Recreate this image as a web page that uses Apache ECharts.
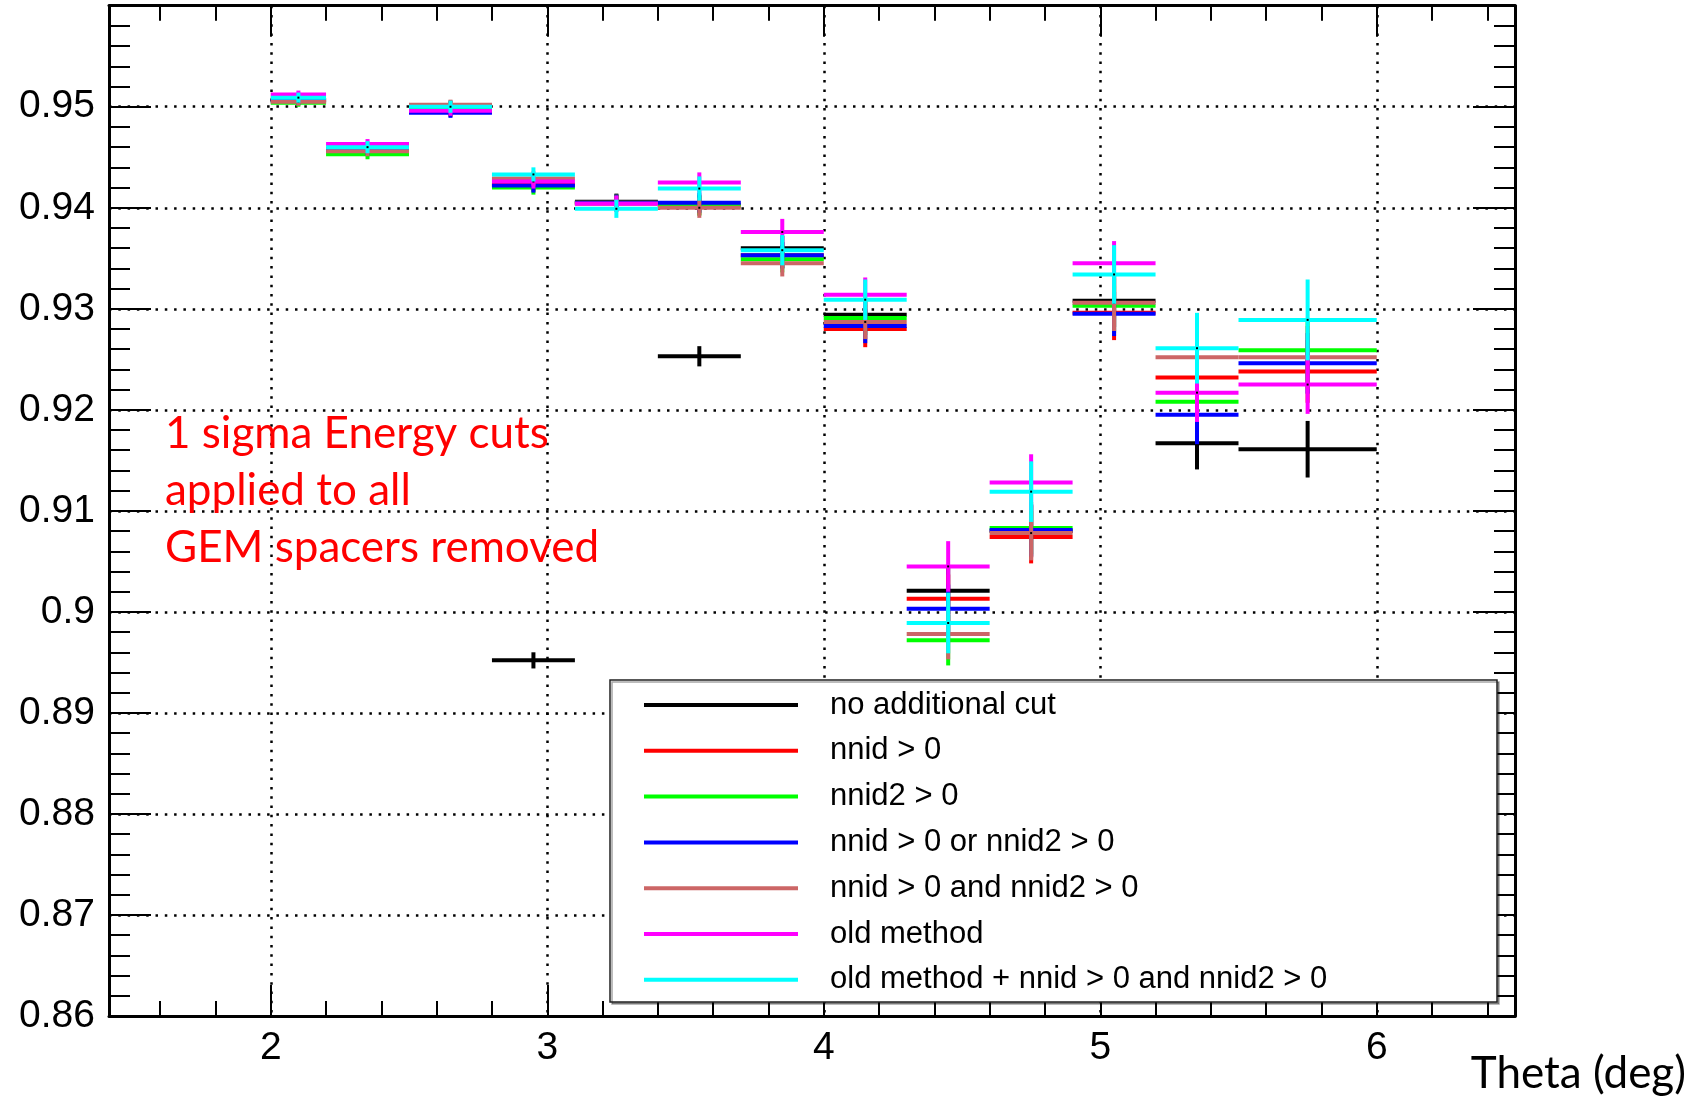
<!DOCTYPE html>
<html>
<head>
<meta charset="utf-8">
<script src="https://cdn.jsdelivr.net/npm/echarts@6/dist/echarts.min.js"></script>
<style>
  html, body { margin: 0; padding: 0; background: #ffffff; }
  #chart { width: 1698px; height: 1096px; }
</style>
</head>
<body>
<div id="chart"></div>
<script>
// Theta bins (deg): lower/upper edges of each bin
const binEdges = [2.0, 2.2, 2.5, 2.8, 3.1, 3.4, 3.7, 4.0, 4.3, 4.6, 4.9, 5.2, 5.5, 6.0];

const seriesNames = [
  'no additional cut',
  'nnid > 0',
  'nnid2 > 0',
  'nnid > 0 or nnid2 > 0',
  'nnid > 0 and nnid2 > 0',
  'old method',
  'old method + nnid > 0 and nnid2 > 0'
];
const seriesColors = ['#000000', '#ff0000', '#00ff00', '#0000ff', '#cc6666', '#ff00ff', '#00ffff'];

// Efficiency per theta bin, one array per selection
const effNoCut      = [0.9507, 0.9458, 0.9501, 0.8952, 0.9406, 0.9253, 0.9360, 0.9294, 0.9021, 0.9080, 0.9308, 0.9167, 0.9161];
const effNnid       = [0.9507, 0.9457, 0.9495, 0.9423, 0.9405, 0.9403, 0.9353, 0.9280, 0.9013, 0.9074, 0.9296, 0.9232, 0.9238];
const effNnid2      = [0.9504, 0.9453, 0.9498, 0.9420, 0.9405, 0.9402, 0.9349, 0.9291, 0.8972, 0.9083, 0.9303, 0.9208, 0.9259];
const effOr         = [0.9506, 0.9457, 0.9494, 0.9422, 0.9405, 0.9405, 0.9353, 0.9283, 0.9003, 0.9081, 0.9295, 0.9195, 0.9246];
const effAnd        = [0.9505, 0.9456, 0.9502, 0.9429, 0.9404, 0.9400, 0.9345, 0.9287, 0.8978, 0.9078, 0.9306, 0.9252, 0.9252];
const effOld        = [0.9512, 0.9463, 0.9496, 0.9426, 0.9404, 0.9425, 0.9376, 0.9314, 0.9045, 0.9128, 0.9345, 0.9217, 0.9225];
const effOldAnd     = [0.9509, 0.9460, 0.9500, 0.9433, 0.9399, 0.9419, 0.9358, 0.9309, 0.8989, 0.9119, 0.9334, 0.9261, 0.9289];

// Statistical uncertainty per theta bin
const errNoCut      = [0.0004, 0.0005, 0.0005, 0.0008, 0.0008, 0.0010, 0.0012, 0.0016, 0.0023, 0.0026, 0.0026, 0.0026, 0.0028];
const errNnid       = [0.0004, 0.0005, 0.0005, 0.0007, 0.0008, 0.0010, 0.0013, 0.0018, 0.0024, 0.0026, 0.0027, 0.0029, 0.0031];
const errNnid2      = [0.0004, 0.0005, 0.0005, 0.0007, 0.0008, 0.0010, 0.0013, 0.0017, 0.0025, 0.0026, 0.0027, 0.0029, 0.0030];
const errOr         = [0.0004, 0.0005, 0.0005, 0.0007, 0.0008, 0.0010, 0.0013, 0.0017, 0.0024, 0.0026, 0.0022, 0.0029, 0.0030];
const errAnd        = [0.0004, 0.0005, 0.0005, 0.0007, 0.0008, 0.0010, 0.0013, 0.0017, 0.0025, 0.0027, 0.0028, 0.0030, 0.0031];
const errOld        = [0.0004, 0.0005, 0.0005, 0.0007, 0.0008, 0.0010, 0.0013, 0.0017, 0.0025, 0.0028, 0.0022, 0.0029, 0.0029];
const errOldAnd     = [0.0005, 0.0006, 0.0006, 0.0007, 0.0009, 0.0012, 0.0015, 0.0020, 0.0030, 0.0030, 0.0029, 0.0035, 0.0040];

const effValues = [effNoCut, effNnid, effNnid2, effOr, effAnd, effOld, effOldAnd];
const errValues = [errNoCut, errNnid, errNnid2, errOr, errAnd, errOld, errOldAnd];

// Axis ticks
const xMajorTicks = [2, 3, 4, 5, 6];
const xMinorTicks = [1.6, 1.8, 2.2, 2.4, 2.6, 2.8, 3.2, 3.4, 3.6, 3.8, 4.2, 4.4, 4.6, 4.8, 5.2, 5.4, 5.6, 5.8, 6.2, 6.4];

const annotationLines = ['1 sigma Energy cuts', 'applied to all', 'GEM spacers removed'];
const xTitle = 'Theta (deg)';

const AXIS_FONT = '"Liberation Sans", Arial, Helvetica, sans-serif';
const NOTE_FONT = 'Lato, "Open Sans", sans-serif';

function buildData(k) {
  const rows = [];
  for (let i = 0; i < effValues[k].length; i++) {
    const lo = binEdges[i], hi = binEdges[i + 1];
    rows.push([lo, hi, (lo + hi) / 2, effValues[k][i], errValues[k][i]]);
  }
  return rows;
}

// One bin: horizontal bar over the bin width, vertical bar for the uncertainty
function renderErrorBar(params, api) {
  const xlo = api.value(0), xhi = api.value(1), xc = api.value(2);
  const y = api.value(3), e = api.value(4);
  const color = api.visual('color');
  const pLo = api.coord([xlo, y]);
  const pHi = api.coord([xhi, y]);
  const pTop = api.coord([xc, y + e]);
  const pBot = api.coord([xc, y - e]);
  const c = api.coord([xc, y]);
  return {
    type: 'group',
    children: [
      { type: 'line', shape: { x1: pLo[0], y1: pLo[1], x2: pHi[0], y2: pHi[1] },
        style: { stroke: color, lineWidth: 4, lineCap: 'butt' } },
      { type: 'line', shape: { x1: pTop[0], y1: pTop[1], x2: pBot[0], y2: pBot[1] },
        style: { stroke: color, lineWidth: 4, lineCap: 'butt' } },
      { type: 'rect', shape: { x: c[0] - 1, y: c[1] - 1, width: 2, height: 2 },
        style: { fill: '#000000' } }
    ]
  };
}

const chart = echarts.init(document.getElementById('chart'), null, { renderer: 'canvas' });

const X_MIN = 1.415, X_MAX = 6.5, Y_MIN = 0.86, Y_MAX = 0.96;
const dotted = { color: '#000000', width: 2.5, type: [2.5, 6.8] };
const tickStyle = { color: '#000000', width: 2 };
const frameLine = { color: '#000000', width: 3 };

const series = seriesNames.map((name, k) => ({
  name: name,
  type: 'custom',
  xAxisIndex: 0,
  yAxisIndex: 0,
  renderItem: renderErrorBar,
  itemStyle: { color: seriesColors[k] },
  encode: { x: [0, 1, 2], y: 3 },
  data: buildData(k),
  z: 2,
  silent: true
}));

const option = {
  backgroundColor: '#ffffff',
  animation: false,
  grid: { left: 109, right: 183, top: 5.7, bottom: 80, containLabel: false },
  xAxis: [
    {
      type: 'value', position: 'bottom', min: X_MIN, max: X_MAX,
      axisLine: { show: true, onZero: false, lineStyle: frameLine },
      axisTick: { show: true, inside: true, length: 31, customValues: xMajorTicks, lineStyle: tickStyle },
      axisLabel: { show: true, customValues: xMajorTicks, margin: 13, color: '#000000',
                   fontFamily: AXIS_FONT, fontSize: 39 },
      splitLine: { show: true, lineStyle: dotted }
    },
    {
      type: 'value', position: 'bottom', min: X_MIN, max: X_MAX,
      axisLine: { show: false },
      axisTick: { show: true, inside: true, length: 15, customValues: xMinorTicks, lineStyle: tickStyle },
      axisLabel: { show: false },
      splitLine: { show: false }
    },
    {
      type: 'value', position: 'top', min: X_MIN, max: X_MAX,
      axisLine: { show: true, onZero: false, lineStyle: frameLine },
      axisTick: { show: true, inside: true, length: 31, customValues: xMajorTicks, lineStyle: tickStyle },
      axisLabel: { show: false },
      splitLine: { show: false }
    },
    {
      type: 'value', position: 'top', min: X_MIN, max: X_MAX,
      axisLine: { show: false },
      axisTick: { show: true, inside: true, length: 15, customValues: xMinorTicks, lineStyle: tickStyle },
      axisLabel: { show: false },
      splitLine: { show: false }
    }
  ],
  yAxis: [
    {
      type: 'value', position: 'left', min: Y_MIN, max: Y_MAX, interval: 0.01,
      axisLine: { show: true, onZero: false, lineStyle: frameLine },
      axisTick: { show: true, inside: true, length: 42, lineStyle: tickStyle },
      minorTick: { show: true, splitNumber: 5, length: 21, lineStyle: tickStyle },
      axisLabel: {
        show: true, margin: 14, color: '#000000', fontFamily: AXIS_FONT, fontSize: 39,
        formatter: function (v) {
          const r = Math.round(v * 100) / 100;
          return r > 0.955 ? '' : String(r);
        }
      },
      splitLine: { show: true, lineStyle: dotted }
    },
    {
      type: 'value', position: 'right', min: Y_MIN, max: Y_MAX, interval: 0.01,
      axisLine: { show: true, onZero: false, lineStyle: frameLine },
      axisTick: { show: true, inside: true, length: 42, lineStyle: tickStyle },
      minorTick: { show: true, splitNumber: 5, length: 21, lineStyle: tickStyle },
      axisLabel: { show: false },
      splitLine: { show: false }
    }
  ],
  legend: {
    show: true,
    orient: 'vertical',
    left: 644,
    top: 689.5,
    padding: 0,
    itemWidth: 154,
    itemHeight: 4,
    itemGap: 14.8,
    icon: 'rect',
    selectedMode: false,
    data: seriesNames,
    textStyle: {
      fontFamily: AXIS_FONT, fontSize: 31, color: '#000000', lineHeight: 30,
      padding: [0, 0, 0, 27]
    },
    z: 6
  },
  graphic: [
    {
      type: 'rect', z: 5,
      shape: { x: 610, y: 680, width: 887, height: 322 },
      style: { fill: '#ffffff', stroke: '#222222', lineWidth: 1.5,
               shadowColor: 'rgba(0,0,0,0.35)', shadowOffsetX: 2, shadowOffsetY: 2, shadowBlur: 0 }
    },
    {
      type: 'text', z: 7, x: 165, y: 434,
      style: { text: annotationLines[0], fill: '#ff0000', font: '44px ' + NOTE_FONT,
               textAlign: 'left', textVerticalAlign: 'middle' }
    },
    {
      type: 'text', z: 7, x: 165, y: 491,
      style: { text: annotationLines[1], fill: '#ff0000', font: '44px ' + NOTE_FONT,
               textAlign: 'left', textVerticalAlign: 'middle' }
    },
    {
      type: 'text', z: 7, x: 165, y: 548,
      style: { text: annotationLines[2], fill: '#ff0000', font: '44px ' + NOTE_FONT,
               textAlign: 'left', textVerticalAlign: 'middle' }
    },
    {
      type: 'text', z: 7, x: 1686, y: 1074,
      style: { text: xTitle, fill: '#000000', font: '44px ' + NOTE_FONT,
               textAlign: 'right', textVerticalAlign: 'middle' }
    }
  ],
  series: series
};

chart.setOption(option);
</script>
</body>
</html>
